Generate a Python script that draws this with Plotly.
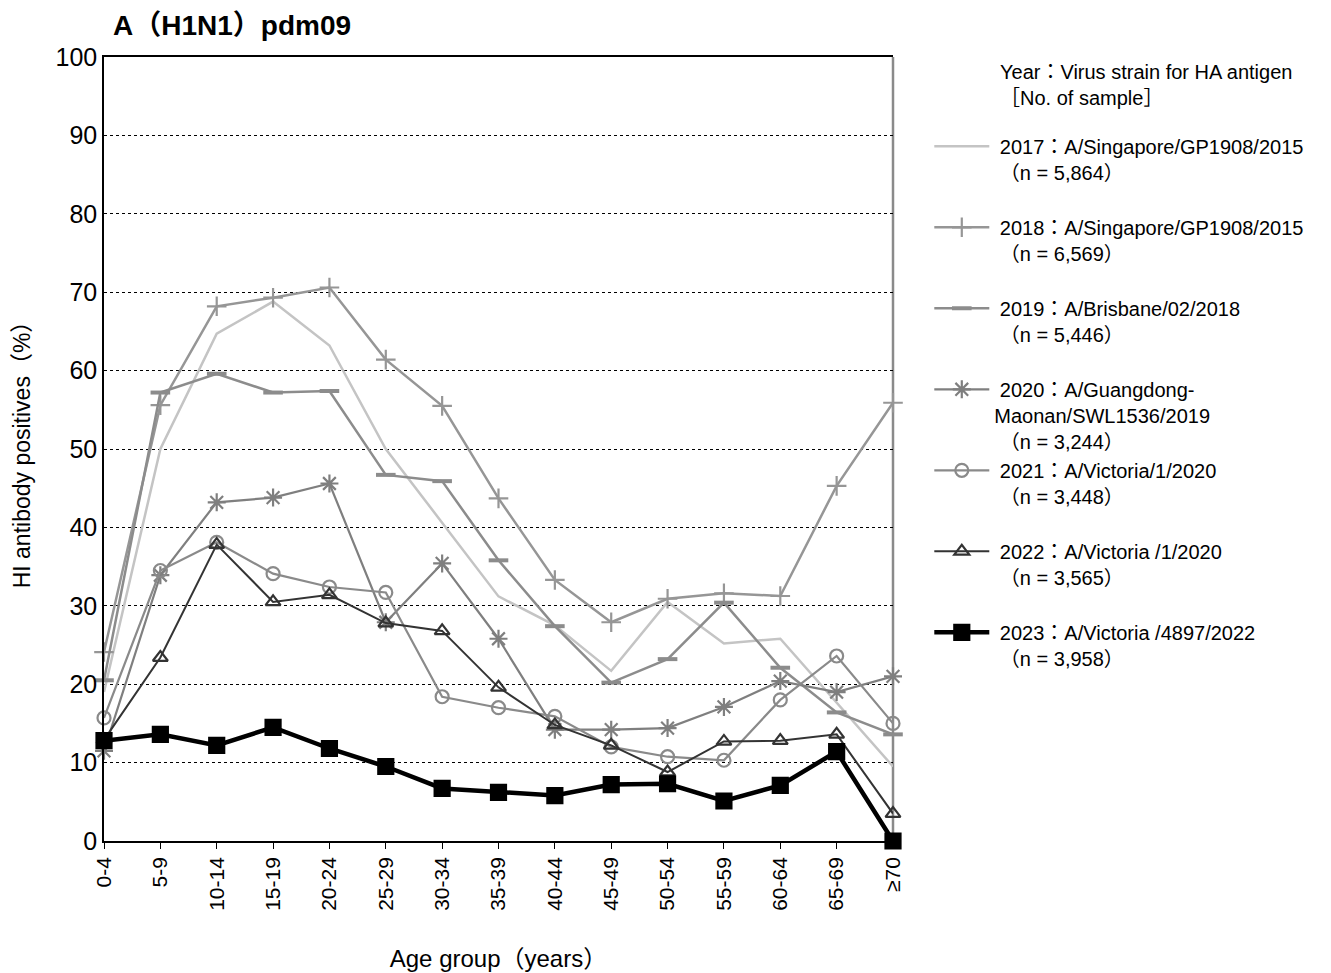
import plotly.graph_objects as go

age_groups = ["0-4", "5-9", "10-14", "15-19", "20-24", "25-29", "30-34", "35-39",
              "40-44", "45-49", "50-54", "55-59", "60-64", "65-69", "≥70"]

y2017 = [19.0, 50.0, 64.7, 68.8, 63.2, 50.0, 40.6, 31.2, 27.5, 21.7, 30.5, 25.2, 25.8, 17.6, 9.5]
y2018 = [24.1, 55.6, 68.2, 69.3, 70.6, 61.4, 55.5, 43.7, 33.3, 27.9, 30.9, 31.6, 31.25, 45.3, 55.9]
y2019 = [20.5, 57.2, 59.6, 57.2, 57.4, 46.7, 45.9, 35.8, 27.4, 20.2, 23.2, 30.4, 22.1, 16.4, 13.6]
y2020 = [11.5, 33.9, 43.2, 43.8, 45.6, 27.9, 35.4, 25.8, 14.2, 14.2, 14.4, 17.1, 20.4, 19.0, 21.0]
y2021 = [15.7, 34.5, 38.1, 34.1, 32.4, 31.7, 18.4, 17.0, 15.9, 12.0, 10.75, 10.3, 18.0, 23.6, 15.0]
y2022 = [12.9, 23.4, 37.8, 30.5, 31.4, 27.8, 26.8, 19.6, 14.8, 12.2, 8.8, 12.7, 12.8, 13.6, 3.5]
y2023 = [12.8, 13.6, 12.2, 14.5, 11.8, 9.5, 6.7, 6.2, 5.8, 7.2, 7.3, 5.1, 7.1, 11.4, 0.0]

N = "\u00a0"
names = [
    N + "2017：A/Singapore/GP1908/2015<br>" + N + "（n = 5,864）<br> ",
    N + "2018：A/Singapore/GP1908/2015<br>" + N + "（n = 6,569）<br> ",
    N + "2019：A/Brisbane/02/2018<br>" + N + "（n = 5,446）<br> ",
    N + "2020：A/Guangdong-<br>Maonan/SWL1536/2019<br>" + N + "（n = 3,244）",
    N + "2021：A/Victoria/1/2020<br>" + N + "（n = 3,448）<br> ",
    N + "2022：A/Victoria /1/2020<br>" + N + "（n = 3,565）<br> ",
    N + "2023：A/Victoria /4897/2022<br>" + N + "（n = 3,958）",
]
series = [y2017, y2018, y2019, y2020, y2021, y2022, y2023]

styles = [
    dict(color="#c4c4c4", width=2.5, symbol=None, size=0),
    dict(color="#969696", width=2.5, symbol="cross-thin-open", size=14),
    dict(color="#8c8c8c", width=2.5, symbol="line-ew-open", size=14),
    dict(color="#7f7f7f", width=2.2, symbol="asterisk-open", size=15),
    dict(color="#8a8a8a", width=2.2, symbol="circle-open", size=13),
    dict(color="#333333", width=2.0, symbol="triangle-up-open", size=13),
    dict(color="#000000", width=4.5, symbol="square", size=15),
]

FONT = "Liberation Sans, Arial, Noto Sans CJK JP, sans-serif"

fig = go.Figure()
for nm, ys, st in zip(names, series, styles):
    if st["symbol"] is None:
        fig.add_trace(go.Scatter(x=age_groups, y=ys, name=nm, mode="lines",
                                 line=dict(color=st["color"], width=st["width"]),
                                 cliponaxis=False))
    else:
        lw = 4 if st["symbol"] == "line-ew-open" else 2.2
        fig.add_trace(go.Scatter(x=age_groups, y=ys, name=nm, mode="lines+markers",
                                 line=dict(color=st["color"], width=st["width"]),
                                 marker=dict(symbol=st["symbol"], size=st["size"],
                                             color=st["color"],
                                             line=dict(color=st["color"], width=lw)),
                                 cliponaxis=False))

fig.update_layout(
    width=1331, height=973,
    margin=dict(l=104, r=438, t=57, b=132),
    paper_bgcolor="white", plot_bgcolor="white",
    font=dict(family=FONT, color="#000000", size=20),
    title=dict(text="<b>A（H1N1）pdm09</b>", x=113 / 1331, xref="container", xanchor="left",
               y=0.984, yref="container", yanchor="top", font=dict(size=28, family=FONT)),
    showlegend=True,
    legend=dict(x=1.046, xanchor="left", y=0.911, yanchor="top", valign="top",
                font=dict(size=20, family=FONT), bgcolor="rgba(0,0,0,0)",
                tracegroupgap=0, itemwidth=55),
    xaxis=dict(type="category", categoryarray=age_groups, range=[0, 14],
               showline=True, linecolor="#000000", linewidth=1.5, mirror=True,
               ticks="outside", ticklen=6, tickcolor="#000000", tickangle=-90,
               tickfont=dict(size=21), showgrid=False, automargin=False,
               title=dict(text="Age group（years）", font=dict(size=24), standoff=40)),
    yaxis=dict(range=[0, 100], dtick=10, showline=True, linecolor="#000000", linewidth=1.5,
               mirror=False, ticks="", tickfont=dict(size=25), showgrid=True, automargin=False,
               gridcolor="#000000", griddash="dot", gridwidth=1, zeroline=False,
               title=dict(text="HI antibody positives（%）", font=dict(size=23), standoff=18)),
    shapes=[dict(type="line", xref="paper", yref="paper", x0=1, x1=1, y0=0, y1=1,
                 line=dict(color="#8a8a8a", width=2.5), layer="below")],
)
fig.add_annotation(text="Year：Virus strain for HA antigen<br>［No. of sample］",
                   xref="paper", yref="paper", x=(998 - 104) / 789, y=0.997,
                   xanchor="left", yanchor="top", showarrow=False, align="left",
                   font=dict(size=20, family=FONT))

fig.write_html("out.html", config={"displayModeBar": False},
               post_script="document.body.style.margin='0';")
